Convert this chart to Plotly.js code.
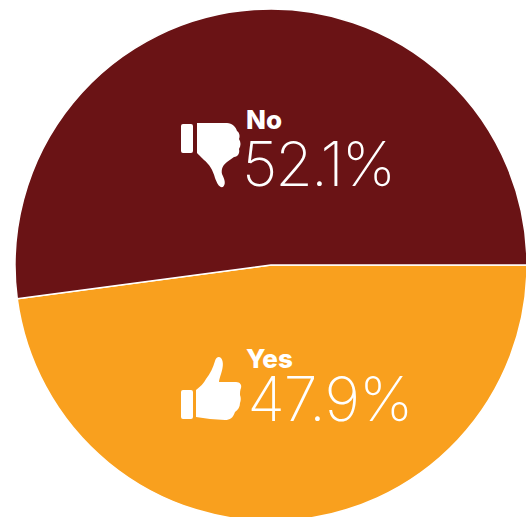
<!DOCTYPE html>
<html>
<head>
<meta charset="utf-8">
<script src="https://cdn.plot.ly/plotly-3.0.1.min.js"></script>
<style>
html,body{margin:0;padding:0;background:#fff;overflow:hidden;width:526px;height:517px}
#chart{width:526px;height:517px}
/* tighter figures for the two large percentages */
.annotation[data-index="1"] text{letter-spacing:-2px}
.annotation[data-index="3"] text{letter-spacing:-1px}
</style>
</head>
<body>
<div id="chart"></div>
<script>
// Poll result, in percent
const answers = ["Yes", "No"];
const shares = [47.9, 52.1];
const sliceColors = ["#F9A01E", "#6A1315"];

const plotW = 512, plotH = 512, left = 15, top_ = 9;
const px = x => (x - left) / plotW;
const py = y => 1 - (y - top_) / plotH;

// Hand icons, drawn in pixels around a local origin (y grows upward)
const thumbDown = [
  "M3,0 L11,0 Q13,0 13,-2 L13,-27 Q13,-29 11,-29 L3,-29 Q1,-29 1,-27 L1,-2 Q1,0 3,0 Z",
  "M17,1 L47,1 C52,1 56,-3 57,-7 C60,-9 60,-13 59,-15 C61,-18 61,-22 59,-25 C60,-29 58,-33 54,-33 L47,-38 C43,-41 41,-45 42,-50 C45,-56 46,-60 43,-63 C39,-64 37,-59 35,-54 C33,-46 29,-40 24,-36 C20,-32 17,-29 17,-29 Z"
].join(" ");
const thumbUp = [
  "M3,0 L11,0 Q13,0 13,-2 L13,-27 Q13,-29 11,-29 L3,-29 Q1,-29 1,-27 L1,-2 Q1,0 3,0 Z",
  "M16,0 C20,3 24,7 26,11 C30,16 33,22 35,29 C36,33 39,34 41,32 C44,28 43,22 41,16 C40,13 39,10 39,8 L56,8 C60,8 62,5 61,2 C60,0 60,-3 60,-5 C61,-8 61,-10 60,-13 C60,-17 58,-20 55,-22 C53,-28 50,-30 45,-30 L30,-29 L16,-27 Z"
].join(" ");

function iconShape(path, ax, ay) {
  return {
    type: "path", path: path, xref: "paper", yref: "paper",
    xsizemode: "pixel", ysizemode: "pixel",
    xanchor: px(ax), yanchor: py(ay),
    fillcolor: "#fff", line: {width: 0}
  };
}

function labelNote(text, x, y, size, family, weight) {
  return {
    text: text, xref: "paper", yref: "paper", x: px(x), y: py(y),
    xanchor: "left", yanchor: "middle", showarrow: false,
    font: {family: family, size: size, color: "#fff", weight: weight}
  };
}

const trace = {
  type: "pie",
  labels: answers,
  values: shares,
  sort: false,
  direction: "clockwise",
  rotation: 90,
  textinfo: "none",
  hoverinfo: "none",
  showlegend: false,
  marker: {colors: sliceColors, line: {color: "#fff", width: 1.5}}
};

const layout = {
  width: 527, height: 522,
  margin: {l: left, r: 0, t: top_, b: 1},
  paper_bgcolor: "#fff",
  showlegend: false,
  shapes: [
    iconShape(thumbDown, 180, 124),
    iconShape(thumbUp, 180, 390)
  ],
  annotations: [
    labelNote(answers[1], 244, 119, 26, "Inter", 800),
    labelNote(shares[1].toFixed(1) + "%", 235, 164, 61, "Inter", 150),
    labelNote(answers[0], 244, 358, 26, "Inter", 800),
    labelNote(shares[0].toFixed(1) + "%", 243, 399, 61, "Inter", 150)
  ]
};

Plotly.newPlot("chart", [trace], layout, {displayModeBar: false, staticPlot: true});
</script>
</body>
</html>
